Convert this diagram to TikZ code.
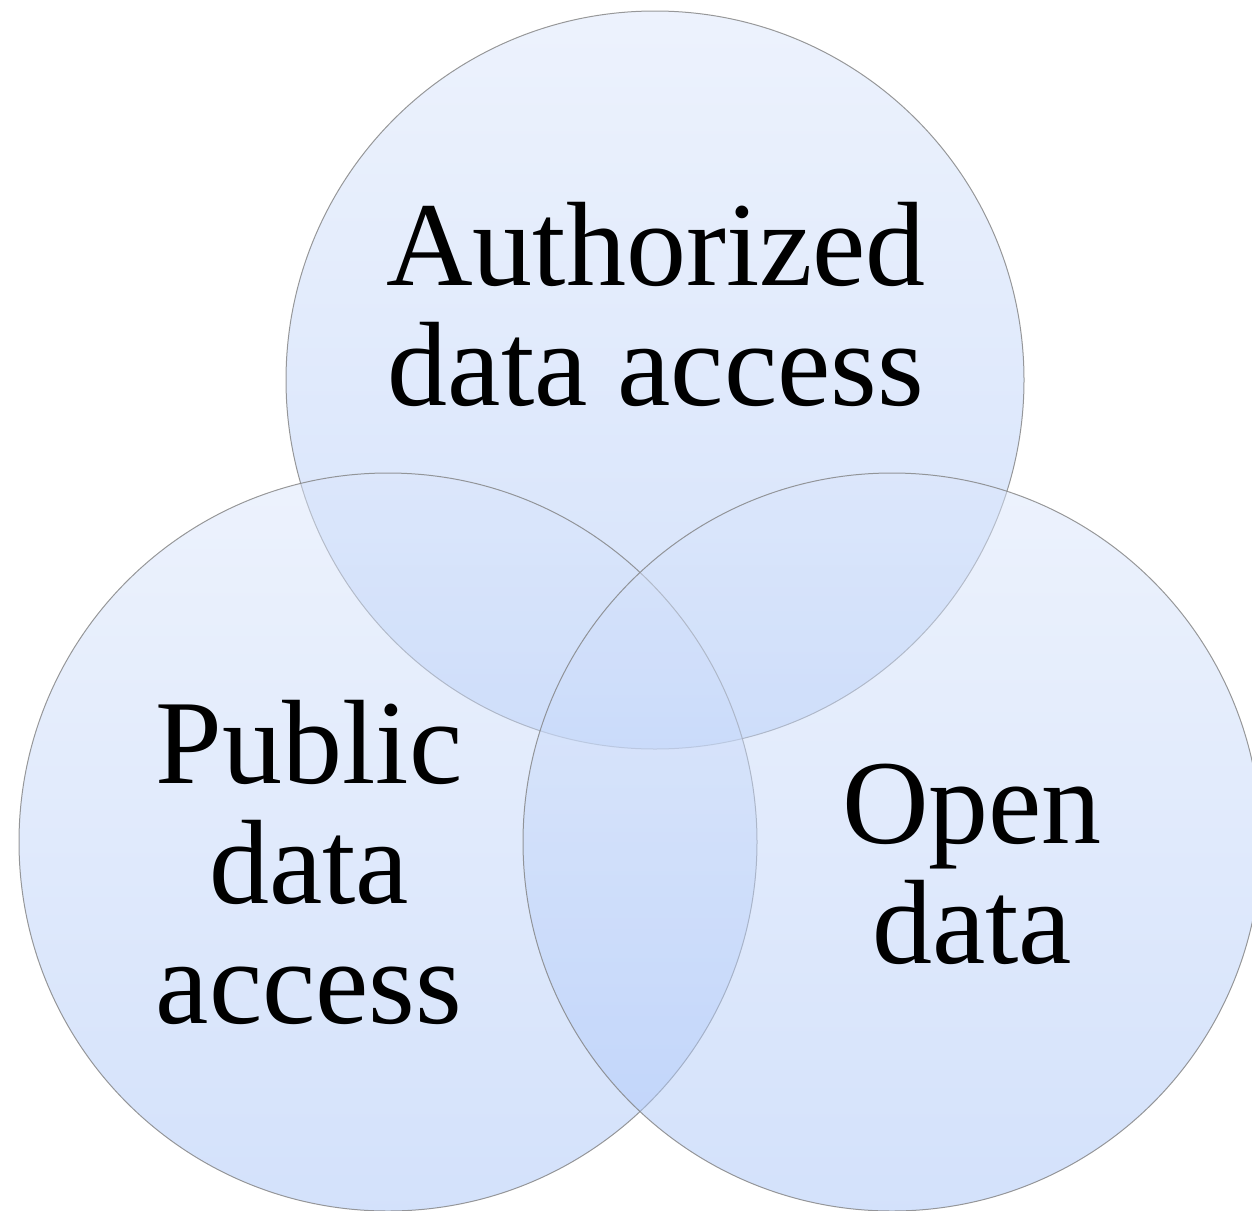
\documentclass[tikz,border=0pt]{standalone}
\usepackage{fontspec}
\setmainfont{Liberation Serif}
\usetikzlibrary{positioning}

\definecolor{venntop}{RGB}{219,230,251}
\definecolor{vennbot}{RGB}{168,196,247}

\tikzset{
    venn/.style={circle, minimum size=369pt, inner sep=0pt, outer sep=0pt,
        draw=black!50, line width=0.5pt, draw opacity=0.8,
        top color=venntop, bottom color=vennbot, fill opacity=0.5},
    venntext/.style={align=center, anchor=base, text=black, text opacity=1,
        inner sep=0pt, font=\fontsize{60pt}{60pt}\selectfont}
}

\begin{document}
\begin{tikzpicture}[x=0.5pt, y=-0.5pt]
    \useasboundingbox (0,0) rectangle (1252,1210);
    \clip (0,0) rectangle (1252,1210);

    % Circles
    \node[venn] (auth) at (655,380) {};
    \node[venn] (pub) at (388,842) {};
    \node[venn] (open) at (892,842) {};

    % Labels
    \node[venntext] (authtext) at ([shift={(1,25)}]auth.center) {Authorized\\data access};
    \node[venntext] (pubtext) at ([shift={(-79,181)}]pub.center) {Public\\data\\access};
    \node[venntext] (opentext) at ([shift={(80,121)}]open.center) {Open\\data};
\end{tikzpicture}
\end{document}
